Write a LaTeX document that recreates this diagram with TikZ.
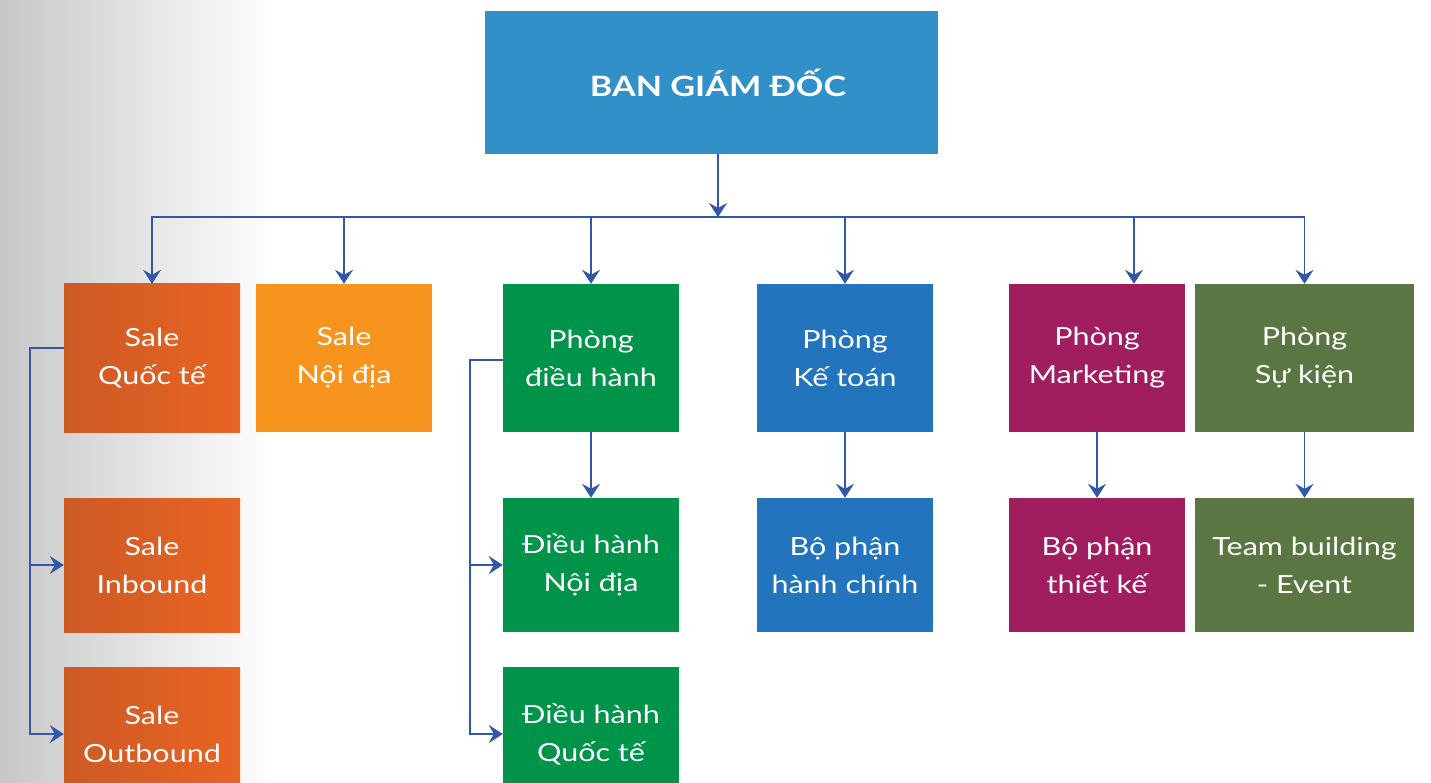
\documentclass[tikz,border=0pt]{standalone}
\usepackage{fontspec}
\setmainfont{Lato}[FakeStretch=1.22]
\usetikzlibrary{arrows.meta}

\definecolor{boardBlue}{HTML}{3190C8}
\definecolor{saleOrangeL}{HTML}{CD5A24}
\definecolor{saleOrangeR}{HTML}{E96423}
\definecolor{domesticOrange}{HTML}{F7941D}
\definecolor{opsGreen}{HTML}{00934A}
\definecolor{accountBlue}{HTML}{2274BC}
\definecolor{marketPurple}{HTML}{A01E60}
\definecolor{eventOlive}{HTML}{5A7743}
\definecolor{linkBlue}{HTML}{3057A8}

\tikzset{
  dept/.style={minimum width=176pt, minimum height=148pt, inner sep=0pt, align=center, text=white, font=\fontsize{25}{38}\selectfont},
  subdept/.style={dept, minimum height=134pt},
  link/.style={draw=linkBlue, line width=1.8pt, -{Stealth[length=14pt,width=18pt,inset=5pt]}},
}

\begin{document}
\begin{tikzpicture}[x=1pt,y=-1pt]
    \useasboundingbox (0,0) rectangle (1431,783);
    \clip (0,0) rectangle (1431,783);
    \shade[left color=black!22, right color=white] (0,0) rectangle (275,783);

    \node[fill=boardBlue, minimum width=453pt, minimum height=143pt, text=white, font=\bfseries\fontsize{28}{40}\selectfont] (bgd) at (711.5,82.5) {\hspace*{13pt}BAN GIÁM ĐỐC};

    % row 1
    \node[dept, left color=saleOrangeL, right color=saleOrangeR] (sqt) at (152,358) {Sale\\Quốc tế};
    \node[dept, fill=domesticOrange] (snd) at (344,358) {Sale\\Nội địa};
    \node[dept, fill=opsGreen] (pdh) at (591,358) {Phòng\\điều hành};
    \node[dept, fill=accountBlue] (pkt) at (845,358) {Phòng\\Kế toán};
    \node[dept, fill=marketPurple] (pmk) at (1097,358) {Phòng\\Marketing};
    \node[dept, fill=eventOlive, minimum width=219pt] (psk) at (1304.5,358) {Phòng\\Sự kiện};

    % row 2
    \node[subdept, left color=saleOrangeL, right color=saleOrangeR] (sib) at (152,565) {Sale\\Inbound};
    \node[subdept, fill=opsGreen] (dhnd) at (591,565) {Điều hành\\Nội địa};
    \node[subdept, fill=accountBlue] (bphc) at (845,565) {Bộ phận\\hành chính};
    \node[subdept, fill=marketPurple] (bptk) at (1097,565) {Bộ phận\\thiết kế};
    \node[subdept, fill=eventOlive, minimum width=219pt] (tbe) at (1304.5,565) {Team building\\- Event};

    % row 3
    \node[subdept, left color=saleOrangeL, right color=saleOrangeR] (sob) at (152,734) {Sale\\Outbound};
    \node[subdept, fill=opsGreen] (dhqt) at (591,734) {Điều hành\\Quốc tế};

    % connectors
    \coordinate (bus) at (718,217);
    \draw[link] (bgd.south -| bus) -- (bus);
    \foreach \dep in {sqt,snd,pdh,pkt,psk}
        \draw[link] (bus) -| (\dep.north);
    \draw[link] (bus) -| ([xshift=37pt]pmk.north);

    \draw[link] (pdh) -- (dhnd);
    \draw[link] (pkt) -- (bphc);
    \draw[link] (pmk) -- (bptk);
    \draw[link] (psk) -- (tbe);

    \coordinate (salebar) at (30,0);
    \draw[link] ([yshift=10pt]sqt.west) -| (salebar |- sib.west) -- (sib.west);
    \draw[link] ([yshift=10pt]sqt.west) -| (salebar |- sob.west) -- (sob.west);

    \coordinate (opsbar) at (470,0);
    \draw[link] ([yshift=-2pt]pdh.west) -| (opsbar |- dhnd.west) -- (dhnd.west);
    \draw[link] ([yshift=-2pt]pdh.west) -| (opsbar |- dhqt.west) -- (dhqt.west);
\end{tikzpicture}
\end{document}
